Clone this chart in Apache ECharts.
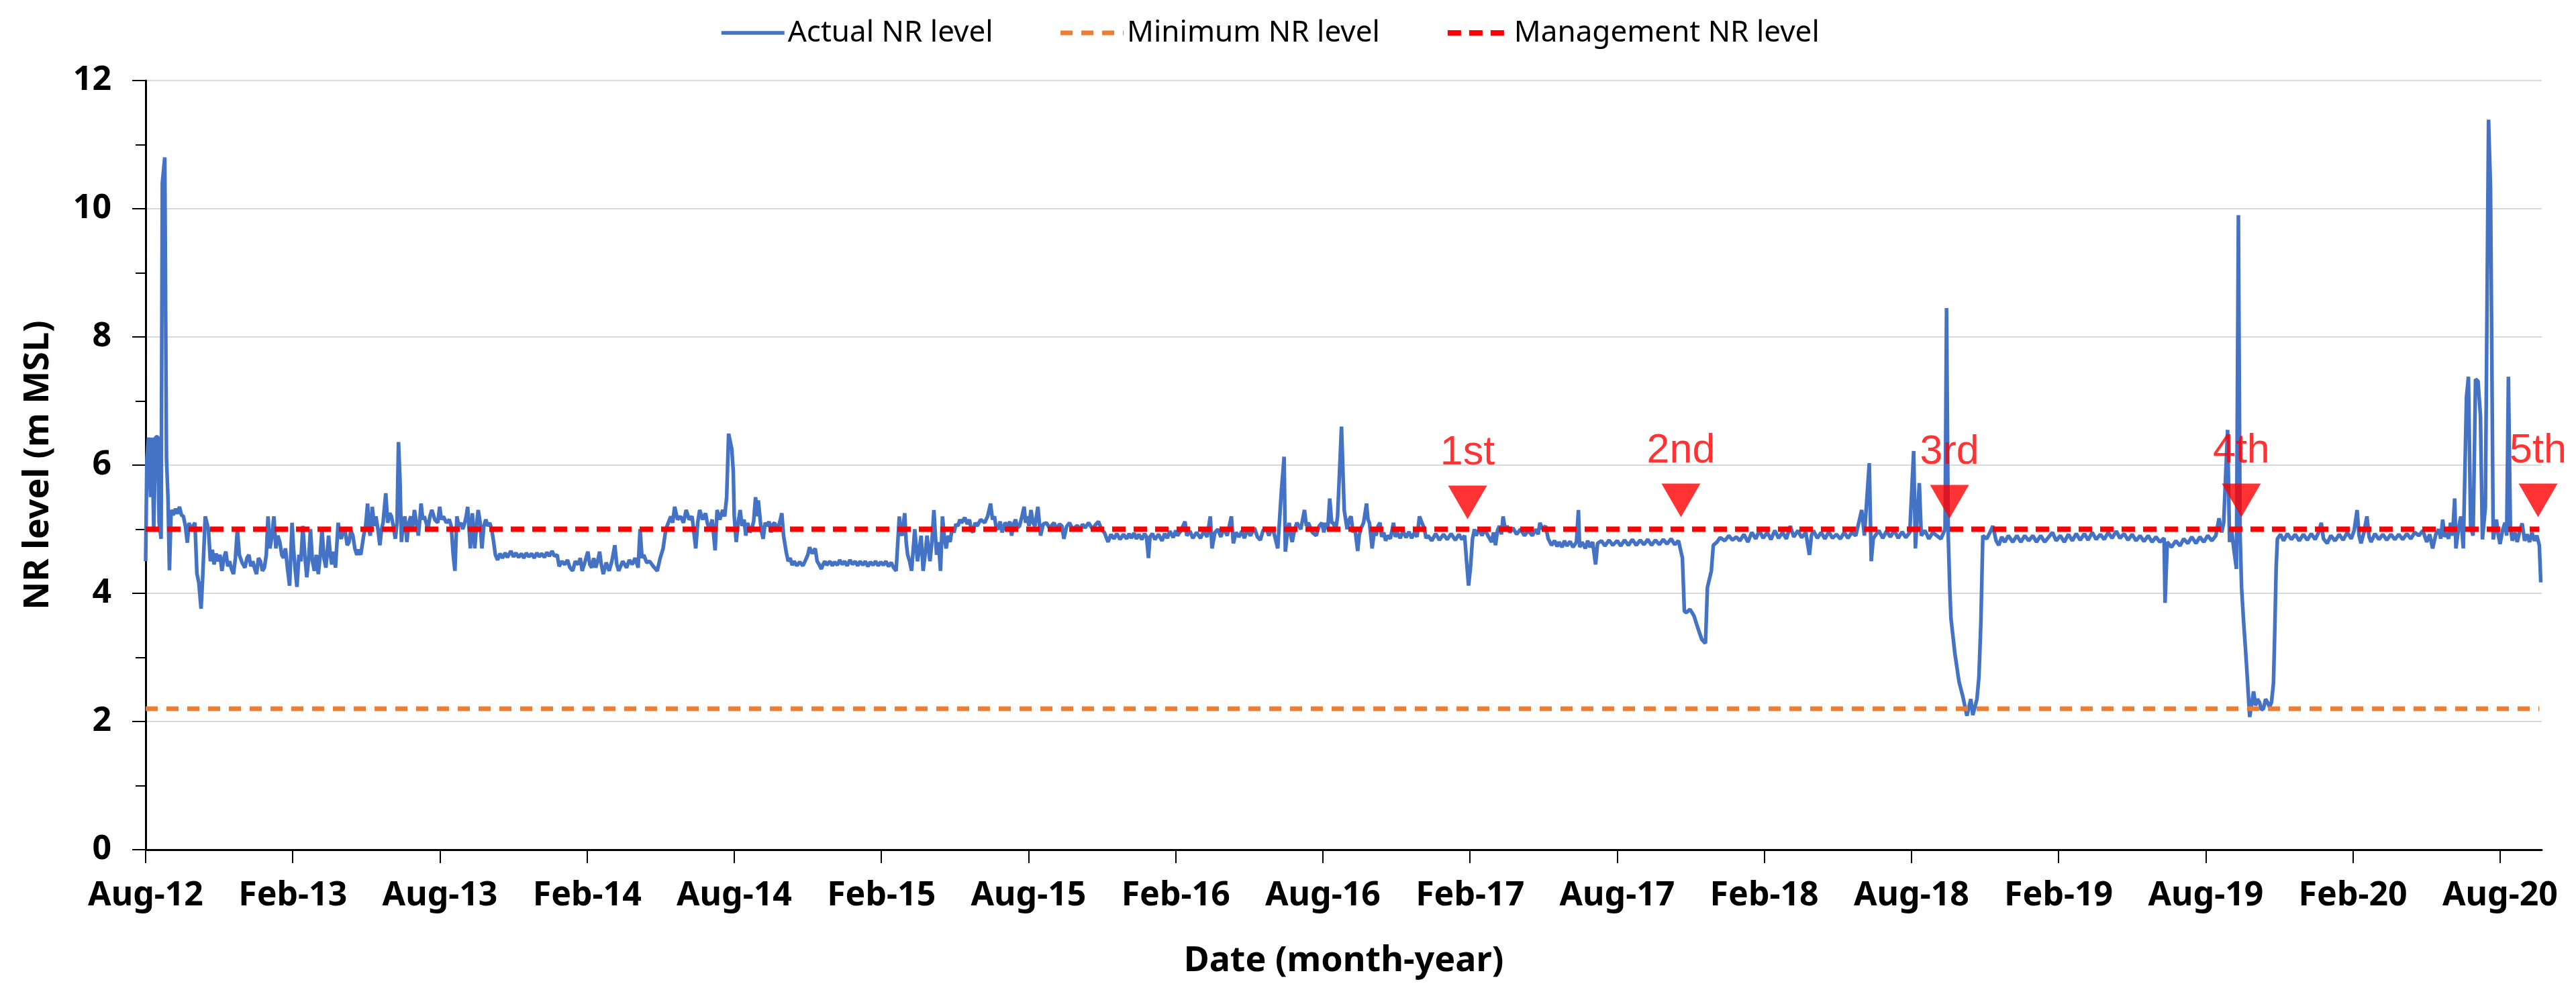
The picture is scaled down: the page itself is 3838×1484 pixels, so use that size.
<!DOCTYPE html>
<html>
<head>
<meta charset="utf-8">
<title>NR level</title>
<script src="https://cdn.jsdelivr.net/npm/echarts@6/dist/echarts.min.js"></script>
<style>
	html, body { margin: 0; padding: 0; background: #fff; }
	#chart { width: 3838px; height: 1484px; }
</style>
</head>
<body>
<div id="chart"></div>
<script>
	// x values are months counted from Aug-2012
	var tickMonths = [0, 6, 12, 18, 24, 30, 36, 42, 48, 54, 60, 66, 72, 78, 84, 90, 96];
	var tickLabels = ['Aug-12', 'Feb-13', 'Aug-13', 'Feb-14', 'Aug-14', 'Feb-15', 'Aug-15', 'Feb-16', 'Aug-16',
		'Feb-17', 'Aug-17', 'Feb-18', 'Aug-18', 'Feb-19', 'Aug-19', 'Feb-20', 'Aug-20'];

	var minimumLevel = 2.2;
	var managementLevel = 5.0;
	var lineSpan = [0, 97.6];

	var eventNames = ['1st', '2nd', '3rd', '4th', '5th'];
	var eventMonths = [53.9, 62.6, 73.55, 85.45, 97.55];
	var eventLevels = [5.42, 5.45, 5.43, 5.45, 5.45];

	var actualLevel = [
		[0, 4.5], [0.05, 6.1], [0.12, 6.43], [0.2, 5.5], [0.26, 6.43], [0.33, 5.0], [0.41, 6.44], [0.5, 6.44],
		[0.55, 5.1], [0.63, 4.85], [0.68, 10.4], [0.78, 10.8], [0.85, 6.1], [0.91, 5.5], [0.97, 4.36], [1.04, 5.3],
		[1.12, 5.22], [1.22, 5.32], [1.3, 5.24], [1.38, 5.35], [1.46, 5.22], [1.54, 5.2], [1.62, 5.05], [1.7, 4.79],
		[1.77, 5.1], [1.85, 4.98], [1.93, 5.05], [2.01, 5.1], [2.09, 4.31],
		[2.17, 4.16], [2.26, 3.76], [2.32, 4.2], [2.43, 5.2], [2.56, 5.0], [2.64, 4.5], [2.72, 4.68], [2.79, 4.45], [2.87, 4.62], [2.95, 4.5],
		[3.03, 4.6], [3.11, 4.35], [3.19, 4.55], [3.27, 4.65], [3.35, 4.42], [3.42, 4.5], [3.5, 4.38], [3.58, 4.3], [3.66, 4.55], [3.74, 5.0],
		[3.82, 4.6], [3.93, 4.48], [4.05, 4.4], [4.13, 4.55], [4.21, 4.6], [4.29, 4.42],
		[4.37, 4.5], [4.45, 4.38], [4.52, 4.3], [4.6, 4.55], [4.68, 4.5], [4.76, 4.35], [4.84, 4.4], [4.92, 4.6], [4.99, 5.2], [5.07, 4.7], [5.15, 4.9], [5.23, 5.2], [5.31, 4.7],
		[5.39, 4.9], [5.47, 4.8], [5.55, 4.6], [5.62, 4.55], [5.7, 4.7], [5.78, 4.4], [5.87, 4.12], [5.97, 5.1], [6.03, 4.7], [6.09, 4.4], [6.17, 4.1], [6.25, 4.6], [6.33, 4.5],
		[6.41, 5.05], [6.49, 4.6], [6.57, 4.25], [6.65, 4.55], [6.72, 5.0], [6.8, 4.5], [6.88, 4.35], [6.96, 4.6], [7.04, 4.3], [7.12, 4.6], [7.19, 5.0], [7.27, 4.55], [7.35, 4.4], [7.46, 4.9],
		[7.53, 4.6], [7.59, 4.45], [7.67, 4.65], [7.74, 4.4], [7.85, 5.1], [7.92, 4.9], [7.98, 4.85], [8.06, 5.0], [8.14, 4.95], [8.22, 4.75], [8.29, 4.8], [8.37, 4.98], [8.45, 4.9], [8.53, 4.7], [8.61, 4.6],
		[8.69, 4.68], [8.77, 4.6], [8.83, 4.75], [8.89, 4.9], [8.97, 5.05], [9.05, 5.4], [9.1, 5.0], [9.16, 4.9], [9.24, 5.35], [9.32, 5.05], [9.39, 5.2], [9.47, 5.0], [9.55, 4.75], [9.62, 5.0], [9.68, 5.1],
		[9.79, 5.56], [9.87, 5.1], [9.95, 5.25], [10.02, 5.2], [10.1, 5.05], [10.18, 4.85], [10.25, 5.1], [10.31, 6.36], [10.37, 5.78], [10.43, 4.8], [10.5, 5.1], [10.57, 5.2],
		[10.65, 4.8], [10.73, 5.1], [10.81, 5.2], [10.88, 5.0], [10.96, 5.3], [11.04, 5.1], [11.12, 4.9], [11.18, 5.15], [11.23, 5.4], [11.3, 5.15], [11.36, 5.2], [11.44, 5.1], [11.51, 5.0], [11.59, 5.2], [11.67, 5.3],
		[11.79, 5.15], [11.91, 5.1], [11.99, 5.35], [12.06, 5.15], [12.14, 5.2], [12.26, 5.1], [12.38, 5.15], [12.46, 5.05], [12.54, 4.6], [12.61, 4.35], [12.69, 5.2], [12.77, 5.05], [12.85, 5.1],
		[12.93, 5.0], [13.01, 5.1], [13.07, 5.2], [13.13, 5.35], [13.24, 4.7], [13.32, 5.25], [13.42, 4.7], [13.5, 5.1], [13.56, 5.3], [13.64, 5.1], [13.71, 4.7], [13.79, 5.05], [13.87, 5.15],
		[13.95, 5.05], [14.03, 5.1], [14.11, 5.0], [14.19, 4.8],
		[14.26, 4.6], [14.35, 4.52], [14.45, 4.62], [14.55, 4.55], [14.66, 4.63], [14.75, 4.56], [14.89, 4.66], [15.0, 4.57],
		[15.1, 4.63], [15.21, 4.56], [15.32, 4.62], [15.42, 4.55], [15.52, 4.63], [15.63, 4.57], [15.74, 4.62], [15.84, 4.55],
		[15.95, 4.63], [16.05, 4.57], [16.15, 4.62], [16.26, 4.56], [16.36, 4.64], [16.46, 4.58], [16.57, 4.66], [16.67, 4.58],
		[16.78, 4.6], [16.86, 4.42], [16.97, 4.5], [17.09, 4.45], [17.2, 4.52], [17.3, 4.4], [17.41, 4.35], [17.52, 4.5], [17.64, 4.45],
		[17.72, 4.55], [17.8, 4.35], [17.92, 4.5], [18.03, 4.65], [18.11, 4.45], [18.19, 4.4], [18.27, 4.55], [18.35, 4.4], [18.43, 4.5], [18.51, 4.65], [18.58, 4.45], [18.66, 4.3],
		[18.78, 4.48], [18.9, 4.35], [19.01, 4.5], [19.13, 4.75], [19.21, 4.45], [19.29, 4.35], [19.45, 4.5], [19.61, 4.4], [19.72, 4.52], [19.84, 4.45], [19.96, 4.55], [20.08, 4.4],
		[20.16, 5.0], [20.24, 4.55], [20.31, 4.6], [20.43, 4.48], [20.55, 4.5], [20.7, 4.42], [20.86, 4.35], [20.98, 4.55],
		[21.1, 4.7], [21.21, 5.0], [21.31, 5.1], [21.41, 5.2], [21.49, 5.1], [21.57, 5.35], [21.69, 5.15], [21.81, 5.2], [21.93, 5.1], [22.04, 5.3], [22.16, 5.15], [22.28, 5.2], [22.43, 4.7],
		[22.51, 5.1], [22.59, 5.3], [22.71, 5.15], [22.83, 5.25], [22.9, 5.1], [22.98, 5.0], [23.1, 5.15], [23.22, 4.67], [23.3, 5.3], [23.41, 5.15], [23.53, 5.3], [23.61, 5.2], [23.69, 5.5], [23.77, 6.49],
		[23.9, 6.25], [23.96, 5.9], [24.0, 5.2], [24.08, 4.8], [24.16, 5.1], [24.24, 5.3],
		[24.32, 5.05], [24.4, 5.15], [24.47, 4.9], [24.55, 5.1], [24.63, 4.95], [24.71, 5.0], [24.79, 5.12], [24.87, 5.5], [24.93, 5.2], [24.98, 5.45], [25.07, 5.1], [25.12, 4.95], [25.18, 4.85],
		[25.26, 5.1], [25.34, 5.05], [25.42, 5.12], [25.5, 4.95], [25.58, 5.08], [25.65, 5.1], [25.73, 5.0], [25.81, 5.05], [25.88, 5.15], [25.94, 5.25], [26.01, 4.9],
		[26.12, 4.64], [26.2, 4.5], [26.28, 4.55], [26.36, 4.44], [26.44, 4.5], [26.55, 4.43], [26.67, 4.49], [26.8, 4.43],
		[26.91, 4.52], [27.0, 4.6], [27.07, 4.72], [27.18, 4.62], [27.3, 4.7], [27.38, 4.5], [27.46, 4.45], [27.55, 4.38],
		[27.62, 4.45], [27.7, 4.5], [27.77, 4.44], [27.9, 4.5], [28.0, 4.43], [28.09, 4.49], [28.2, 4.44], [28.3, 4.52],
		[28.4, 4.45], [28.5, 4.5], [28.6, 4.43], [28.72, 4.52], [28.82, 4.45], [28.93, 4.5], [29.03, 4.43], [29.13, 4.5],
		[29.24, 4.44], [29.34, 4.5], [29.45, 4.42], [29.55, 4.49], [29.66, 4.44], [29.76, 4.5], [29.87, 4.43], [29.97, 4.49],
		[30.08, 4.44], [30.18, 4.5], [30.29, 4.42], [30.4, 4.48], [30.5, 4.4], [30.6, 4.35],
		[30.73, 5.2], [30.79, 4.95], [30.84, 4.9], [30.95, 5.25], [31.01, 4.8], [31.07, 4.6], [31.15, 4.5], [31.23, 4.35], [31.36, 5.0], [31.47, 4.5],
		[31.55, 4.7], [31.62, 4.9], [31.7, 4.35], [31.78, 4.6], [31.86, 4.9], [31.98, 4.5], [32.06, 4.8], [32.14, 5.3], [32.25, 4.6], [32.33, 4.8], [32.41, 4.35], [32.49, 5.2],
		[32.57, 4.85], [32.64, 4.7], [32.72, 4.9], [32.8, 4.8], [32.88, 5.0], [32.96, 4.95], [33.04, 5.08], [33.12, 5.05],
		[33.2, 5.15], [33.27, 5.1], [33.4, 5.18], [33.5, 5.08], [33.59, 5.15], [33.67, 4.98], [33.74, 4.95], [33.82, 5.1],
		[33.9, 5.05], [34.05, 5.15], [34.21, 5.1], [34.33, 5.2], [34.45, 5.4], [34.53, 5.15], [34.61, 5.2], [34.68, 5.02],
		[34.76, 5.0], [34.84, 5.12], [34.92, 4.95], [35.04, 5.1], [35.16, 5.05], [35.24, 5.12], [35.31, 4.9], [35.39, 5.08],
		[35.47, 5.15], [35.55, 5.02], [35.63, 5.05], [35.72, 5.18], [35.82, 5.35], [35.88, 5.1], [35.94, 5.2], [36.02, 5.05],
		[36.1, 5.3], [36.18, 5.1], [36.26, 5.05], [36.32, 5.2], [36.38, 5.35], [36.44, 5.1], [36.49, 4.9], [36.6, 5.08],
		[36.73, 5.1], [36.85, 5.02], [37.04, 5.1], [37.15, 5.0], [37.26, 5.08], [37.36, 5.05], [37.44, 4.85], [37.55, 5.04],
		[37.67, 5.1], [37.8, 5.0], [37.99, 5.06], [38.1, 4.98], [38.2, 5.08], [38.3, 5.02], [38.45, 5.1], [38.61, 5.0],
		[38.73, 5.07], [38.85, 5.12], [38.97, 5.0], [39.09, 4.95], [39.24, 4.8], [39.36, 4.92], [39.48, 4.85], [39.6, 4.93],
		[39.73, 4.84], [39.87, 4.92], [40.0, 4.85], [40.1, 4.93], [40.19, 4.86], [40.3, 4.94], [40.4, 4.85], [40.5, 4.92],
		[40.62, 4.84], [40.73, 4.93], [40.81, 4.88], [40.89, 4.55], [40.95, 4.88], [41.05, 4.93], [41.15, 4.84], [41.3, 4.92],
		[41.44, 4.82], [41.55, 4.93], [41.66, 4.86], [41.76, 4.97], [41.9, 4.87], [42.0, 4.98], [42.07, 4.9], [42.2, 4.97],
		[42.38, 5.12], [42.45, 4.9], [42.58, 4.97], [42.7, 4.86], [42.85, 4.95], [43.01, 4.86], [43.15, 4.97], [43.28, 4.88],
		[43.41, 5.2], [43.48, 4.7], [43.6, 4.95], [43.72, 5.0], [43.84, 4.88], [43.96, 5.02], [44.1, 4.9], [44.27, 5.2],
		[44.35, 4.78], [44.46, 4.95], [44.58, 4.88], [44.7, 4.97], [44.8, 4.86], [44.9, 4.98], [45.05, 4.9], [45.21, 5.02],
		[45.33, 4.88], [45.45, 4.83], [45.56, 4.98], [45.68, 5.02], [45.8, 4.9], [45.9, 5.0], [46.0, 4.95],
		[46.16, 4.7], [46.31, 5.6], [46.42, 6.13], [46.47, 4.65], [46.55, 4.95], [46.63, 5.1], [46.69, 4.9],
		[46.75, 4.8], [46.85, 5.0], [46.94, 5.1], [47.1, 5.0], [47.25, 5.3], [47.33, 5.05], [47.41, 5.1], [47.57, 4.95], [47.73, 4.9], [47.85, 5.05], [47.96, 5.1],
		[48.04, 4.95], [48.12, 5.1], [48.2, 5.0], [48.28, 5.48], [48.36, 5.1], [48.43, 5.1], [48.52, 4.98], [48.6, 5.2], [48.76, 6.6], [48.87, 5.3],
		[48.99, 5.0], [49.07, 5.15], [49.15, 5.2], [49.23, 4.95], [49.31, 5.0], [49.42, 4.66], [49.48, 4.9], [49.54, 5.0], [49.66, 5.1], [49.78, 5.4], [49.84, 5.15], [49.9, 5.1],
		[50.01, 4.7], [50.1, 4.98], [50.17, 4.9], [50.25, 5.05], [50.33, 5.1], [50.4, 4.88], [50.48, 4.95], [50.56, 4.82],
		[50.64, 4.9], [50.75, 4.85], [50.88, 5.1], [50.95, 4.88], [51.03, 4.95], [51.15, 4.86], [51.27, 4.97], [51.39, 4.87],
		[51.51, 4.96], [51.62, 4.86], [51.74, 4.95], [51.84, 4.88], [51.94, 5.2], [52.04, 5.1], [52.13, 5.02], [52.21, 4.86],
		[52.29, 4.9], [52.44, 4.82], [52.6, 4.93], [52.75, 4.83], [52.92, 4.92], [53.07, 4.84], [53.23, 4.93], [53.4, 4.83],
		[53.55, 4.92], [53.67, 4.84], [53.78, 4.9],
		[53.86, 4.5], [53.94, 4.12], [54.02, 4.4],
		[54.1, 4.85], [54.18, 5.0], [54.25, 4.9], [54.37, 5.0], [54.49, 4.9], [54.6, 5.0], [54.73, 4.9], [54.88, 4.8],
		[54.96, 4.95], [55.04, 4.75], [55.12, 4.98], [55.2, 5.05], [55.28, 4.92], [55.35, 5.2], [55.43, 5.0], [55.51, 5.05],
		[55.63, 4.95], [55.75, 5.02], [55.9, 4.92], [56.06, 5.0], [56.22, 4.9], [56.38, 4.98], [56.54, 4.9], [56.69, 5.0],
		[56.78, 4.92], [56.85, 5.1], [56.96, 5.0], [57.08, 5.05],
		[57.19, 4.85], [57.32, 4.75], [57.45, 4.82], [57.55, 4.73], [57.63, 4.8], [57.75, 4.72], [57.85, 4.82], [57.95, 4.74],
		[58.08, 4.81], [58.2, 4.72], [58.34, 4.8], [58.42, 5.3], [58.47, 4.72], [58.57, 4.8], [58.7, 4.7], [58.8, 4.82],
		[58.89, 4.72], [59.0, 4.8], [59.12, 4.45], [59.2, 4.78], [59.36, 4.82], [59.5, 4.74], [59.67, 4.83], [59.82, 4.75],
		[60.0, 4.82], [60.15, 4.74], [60.3, 4.83], [60.46, 4.75], [60.62, 4.84], [60.78, 4.75], [60.94, 4.83], [61.09, 4.76],
		[61.25, 4.84], [61.4, 4.75], [61.56, 4.83], [61.72, 4.76], [61.88, 4.84], [62.03, 4.77], [62.2, 4.85], [62.35, 4.76],
		[62.5, 4.82],
		[62.66, 4.55], [62.74, 3.72], [62.82, 3.7], [62.97, 3.75], [63.13, 3.65],
		[63.29, 3.46], [63.45, 3.28], [63.6, 3.22], [63.68, 4.09], [63.84, 4.35], [63.92, 4.75],
		[64.07, 4.8], [64.2, 4.87], [64.39, 4.82], [64.55, 4.9], [64.7, 4.83], [64.86, 4.88], [65.0, 4.82], [65.17, 4.92],
		[65.33, 4.8], [65.49, 4.95], [65.65, 4.85], [65.8, 4.98], [65.95, 4.86], [66.12, 4.95], [66.27, 4.84], [66.43, 4.98],
		[66.58, 4.86], [66.74, 4.95], [66.9, 4.85], [67.06, 5.05], [67.2, 4.88], [67.37, 4.98], [67.52, 4.87], [67.69, 4.95],
		[67.84, 4.6], [67.92, 4.9], [68.0, 4.98], [68.16, 4.86], [68.32, 4.95], [68.47, 4.85], [68.63, 4.96], [68.78, 4.86],
		[68.94, 4.92], [69.1, 4.85], [69.26, 4.95], [69.41, 4.86], [69.57, 4.95], [69.73, 4.9],
		[69.97, 5.3], [70.08, 4.9], [70.28, 6.03], [70.36, 4.5], [70.44, 4.85],
		[70.52, 4.9], [70.67, 4.98], [70.83, 4.86], [70.98, 4.97], [71.14, 4.88], [71.3, 4.98], [71.46, 4.86], [71.62, 4.96],
		[71.77, 4.87], [71.93, 4.95], [72.09, 6.22], [72.16, 4.7], [72.32, 5.72], [72.4, 4.9],
		[72.55, 4.98], [72.71, 4.85], [72.87, 4.95], [73.03, 4.9],
		[73.2, 4.85], [73.37, 5.0], [73.43, 8.45], [73.5, 4.9], [73.56, 4.09], [73.61, 3.61], [73.77, 3.06], [73.94, 2.62],
		[74.1, 2.38], [74.26, 2.09], [74.42, 2.35], [74.5, 2.1], [74.67, 2.35], [74.75, 2.69], [74.83, 3.54],
		[74.91, 4.9], [75.07, 4.85], [75.2, 4.95], [75.32, 5.05], [75.45, 4.82], [75.56, 4.75], [75.68, 4.88], [75.8, 4.8],
		[75.95, 4.9], [76.13, 4.8], [76.3, 4.9], [76.46, 4.8], [76.62, 4.9], [76.78, 4.82], [76.95, 4.9], [77.1, 4.8],
		[77.27, 4.9], [77.43, 4.8], [77.6, 4.88], [77.75, 4.95], [77.9, 4.82], [78.07, 4.9], [78.23, 4.8], [78.4, 4.92],
		[78.56, 4.82], [78.72, 4.93], [78.88, 4.83], [79.05, 4.93], [79.2, 4.83], [79.37, 4.95], [79.53, 4.84], [79.7, 4.92],
		[79.86, 4.84], [80.02, 4.95], [80.18, 4.86], [80.35, 4.97], [80.5, 4.86], [80.67, 4.93], [80.83, 4.83], [81.0, 4.92],
		[81.16, 4.82], [81.32, 4.9], [81.48, 4.81], [81.65, 4.9], [81.81, 4.8], [81.97, 4.88], [82.13, 4.8], [82.3, 4.86],
		[82.34, 3.85],
		[82.43, 4.8], [82.6, 4.72], [82.78, 4.82], [82.95, 4.74], [83.1, 4.85], [83.27, 4.78], [83.43, 4.88], [83.6, 4.78],
		[83.76, 4.88], [83.92, 4.8], [84.08, 4.9], [84.25, 4.82], [84.41, 4.9],
		[84.54, 5.17], [84.65, 4.95], [84.73, 5.1], [84.89, 6.55], [84.97, 4.8], [85.05, 5.0], [85.14, 4.7], [85.25, 4.38], [85.33, 9.9], [85.4, 4.9],
		[85.46, 4.09], [85.54, 3.57], [85.62, 3.13], [85.7, 2.65], [85.79, 2.07], [85.95, 2.47], [86.03, 2.25], [86.11, 2.35],
		[86.19, 2.3], [86.27, 2.18], [86.35, 2.2], [86.44, 2.35], [86.52, 2.3], [86.6, 2.22], [86.68, 2.3], [86.76, 2.6],
		[86.81, 3.35], [86.87, 4.4],
		[86.92, 4.85], [87.05, 4.92], [87.17, 4.82], [87.33, 4.93], [87.49, 4.84], [87.65, 4.92], [87.81, 4.82], [87.98, 4.92],
		[88.14, 4.83], [88.3, 4.93], [88.46, 4.84], [88.6, 4.95], [88.71, 5.1], [88.8, 4.85], [88.95, 4.78], [89.1, 4.9],
		[89.27, 4.82], [89.44, 4.92], [89.6, 4.83], [89.77, 4.95], [89.93, 4.85], [90.05, 4.98], [90.17, 5.3], [90.25, 4.9],
		[90.33, 4.78], [90.45, 4.95], [90.57, 5.2], [90.66, 4.88], [90.74, 4.8], [90.9, 4.93], [91.06, 4.84], [91.22, 4.92],
		[91.38, 4.83], [91.55, 4.92], [91.71, 4.84], [91.87, 4.92], [92.03, 4.84], [92.2, 4.93], [92.36, 4.85], [92.52, 4.95],
		[92.69, 4.9], [92.85, 4.98], [93.01, 4.8], [93.13, 4.92], [93.25, 4.7], [93.38, 4.92], [93.5, 5.0], [93.58, 4.85],
		[93.66, 5.15], [93.74, 4.88], [93.82, 4.95], [93.9, 4.85], [93.98, 5.1],
		[94.06, 4.9], [94.15, 5.48], [94.2, 4.7], [94.3, 5.0], [94.4, 5.2], [94.5, 4.7], [94.63, 7.06], [94.71, 7.38],
		[94.8, 5.03], [94.9, 4.9], [95.0, 7.34], [95.1, 7.31], [95.2, 6.77], [95.28, 4.84], [95.4, 5.34], [95.53, 11.39],
		[95.61, 10.33], [95.66, 7.88], [95.72, 4.84], [95.85, 5.15], [95.93, 4.9], [96.0, 4.77], [96.1, 4.98], [96.2, 5.1], [96.27, 4.9], [96.34, 7.38],
		[96.42, 5.03], [96.5, 4.82], [96.6, 4.95], [96.7, 4.8], [96.8, 4.97], [96.9, 5.09], [97.0, 4.82], [97.1, 4.92],
		[97.2, 4.8], [97.3, 4.95], [97.4, 4.82], [97.5, 4.9], [97.6, 4.75], [97.66, 4.17]
	];

	var chart = echarts.init(document.getElementById('chart'));

	var axisFont = 'Noto Sans';
	var eventData = eventMonths.map(function(m, i) {
		return [m, eventLevels[i]];
	});

	var option = {
		animation: false,
		backgroundColor: '#fff',
		grid: {
			left: 217,
			right: 51,
			top: 120,
			bottom: 218
		},
		legend: {
			data: ['Actual NR level', 'Minimum NR level', 'Management NR level'],
			left: 1067,
			top: 22,
			itemWidth: 94,
			itemHeight: 20,
			itemGap: 97,
			itemStyle: { opacity: 0, borderWidth: 0 },
			lineStyle: { width: 'inherit' },
			textStyle: {
				fontSize: 44,
				fontFamily: axisFont,
				color: '#000'
			}
		},
		xAxis: {
			type: 'value',
			min: 0,
			max: 97.7,
			interval: 6,
			name: 'Date (month-year)',
			nameLocation: 'middle',
			nameGap: 140,
			nameTextStyle: {
				fontSize: 52,
				fontWeight: 'bold',
				fontFamily: axisFont,
				color: '#000'
			},
			axisLine: {
				show: true,
				onZero: false,
				lineStyle: { color: '#000', width: 3 }
			},
			axisTick: {
				show: true,
				length: 20,
				customValues: tickMonths,
				lineStyle: { color: '#000', width: 2 }
			},
			axisLabel: {
				customValues: tickMonths,
				margin: 44,
				fontSize: 50,
				fontWeight: 'bold',
				fontFamily: axisFont,
				color: '#000',
				formatter: function(v) {
					return tickLabels[Math.round(v / 6)];
				}
			},
			splitLine: { show: false }
		},
		yAxis: {
			type: 'value',
			min: 0,
			max: 12,
			interval: 2,
			name: 'NR level (m MSL)',
			nameLocation: 'middle',
			nameGap: 134,
			nameTextStyle: {
				fontSize: 52,
				fontWeight: 'bold',
				fontFamily: axisFont,
				color: '#000'
			},
			axisLine: {
				show: true,
				lineStyle: { color: '#000', width: 3 }
			},
			axisTick: {
				show: true,
				length: 20,
				lineStyle: { color: '#000', width: 2 }
			},
			minorTick: {
				show: true,
				splitNumber: 2,
				length: 15,
				lineStyle: { color: '#000', width: 2 }
			},
			axisLabel: {
				margin: 51,
				fontSize: 50,
				fontWeight: 'bold',
				fontFamily: axisFont,
				color: '#000'
			},
			splitLine: {
				show: true,
				lineStyle: { color: '#d9d9d9', width: 2 }
			}
		},
		series: [{
			name: 'Actual NR level',
			type: 'line',
			data: actualLevel,
			symbol: 'none',
			color: '#4472C4',
			lineStyle: { color: '#4472C4', width: 5.5 },
			z: 2
		}, {
			name: 'Minimum NR level',
			type: 'line',
			data: lineSpan.map(function(m) { return [m, minimumLevel]; }),
			symbol: 'none',
			color: '#ED7D31',
			lineStyle: { color: '#ED7D31', width: 7, type: [18, 13] },
			z: 3
		}, {
			name: 'Management NR level',
			type: 'line',
			data: lineSpan.map(function(m) { return [m, managementLevel]; }),
			symbol: 'none',
			color: '#FF0000',
			lineStyle: { color: '#FF0000', width: 8, type: [20, 12] },
			z: 4
		}, {
			name: 'events',
			type: 'scatter',
			data: eventData,
			symbol: 'path://M0,0 L20,0 L10,17 Z',
			symbolSize: [58, 50],
			symbolKeepAspect: false,
			clip: false,
			itemStyle: { color: '#FF0000' },
			label: {
				show: true,
				position: 'top',
				distance: 18,
				color: '#FF0000',
				fontSize: 61,
				fontFamily: 'Liberation Sans',
				formatter: function(p) {
					return eventNames[p.dataIndex];
				}
			},
			z: 5
		}]
	};
	chart.setOption(option);
</script>
</body>
</html>
